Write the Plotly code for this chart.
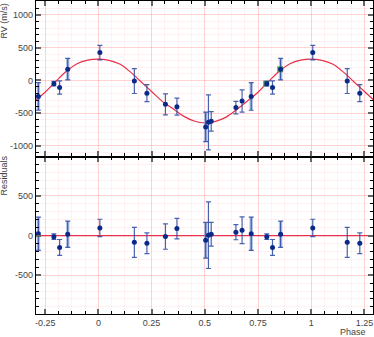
import plotly.graph_objects as go

# ---- data (base phases in [0,1)) ----
phase = [0.007, 0.169, 0.228, 0.315, 0.369, 0.504, 0.517, 0.530, 0.646, 0.675, 0.718, 0.791, 0.818, 0.856]
rv = [425, -10, -195, -365, -400, -710, -640, -625, -415, -315, -245, -50, -108, 172]
rv_err = [110, 190, 130, 160, 130, 225, 420, 150, 95, 170, 210, 35, 100, 165]
resid = [96, -86, -97, -13, 88, -59, 4, 16, 42, 67, 22, -15, -150, 16]
light = [False, False, False, False, False, True, False, False, False, False, True, True, False, True]
green_phase = [0.788, 0.854]
green_rv = [-48, 170]

model_phase = [-0.30, -0.25, -0.20, -0.15, -0.10, -0.05, 0.00, 0.05, 0.10, 0.15, 0.20, 0.25, 0.30,
               0.35, 0.40, 0.45, 0.50, 0.55, 0.60, 0.65, 0.70, 0.75, 0.80, 0.85, 0.90, 0.95,
               1.00, 1.05, 1.10, 1.15, 1.20, 1.25, 1.30]
model_rv = [-315, -180, -15, 140, 255, 310, 325, 305, 250, 130, -20, -170, -320,
            -430, -545, -620, -650, -625, -560, -445, -315, -180, -15, 140, 255, 310,
            325, 305, 250, 130, -20, -170, -320]

x_tickvals = [-0.25, 0, 0.25, 0.5, 0.75, 1, 1.25]
x_ticktext = ["-0.25", "0", "0.25", "0.5", "0.75", "1", "1.25"]
XMIN, XMAX = -0.293, 1.29

# phase-fold copies
def fold(ph, *cols):
    out_p = []
    out_c = [[] for _ in cols]
    for i, p in enumerate(ph):
        for sh in (-1, 0, 1):
            q = p + sh
            if XMIN <= q <= XMAX:
                out_p.append(q)
                for k, c in enumerate(cols):
                    out_c[k].append(c[i])
    return out_p, out_c

fp, (frv, ferr, fres, flight) = fold(phase, rv, rv_err, resid, light)

DARK = "#0a2a8a"
BAR = "rgba(40,70,160,0.85)"
LIGHTBAR = "rgba(120,150,210,0.55)"
RED = "#e8304a"
FONT = "Liberation Sans, Arial"

fig = go.Figure()

def add_points(yvals, xa, ya, green=False):
    lp = [p for p, l in zip(fp, flight) if l]
    ly = [y for y, l in zip(yvals, flight) if l]
    le = [e for e, l in zip(ferr, flight) if l]
    fig.add_trace(go.Scatter(x=lp, y=ly, mode="markers", xaxis=xa, yaxis=ya,
                             marker=dict(size=1, color="rgba(0,0,0,0)"),
                             error_y=dict(type="data", array=le, color=LIGHTBAR, thickness=3.5, width=0),
                             showlegend=False, hoverinfo="skip"))
    if green:
        fig.add_trace(go.Scatter(x=green_phase, y=green_rv, mode="markers", xaxis=xa, yaxis=ya,
                                 marker=dict(size=6, symbol="square", color="rgba(70,160,60,0.85)"),
                                 showlegend=False))
    fig.add_trace(go.Scatter(x=fp, y=yvals, mode="markers", xaxis=xa, yaxis=ya,
                             marker=dict(size=5, color=DARK),
                             error_y=dict(type="data", array=ferr, color=BAR, thickness=1.2, width=2.5),
                             showlegend=False))

# top panel
fig.add_trace(go.Scatter(x=model_phase, y=model_rv, mode="lines", line=dict(color=RED, width=1.2, shape="spline"),
                         xaxis="x2", yaxis="y2", showlegend=False, hoverinfo="skip"))
add_points(frv, "x2", "y2", green=True)

# bottom panel
fig.add_trace(go.Scatter(x=[XMIN, XMAX], y=[0, 0], mode="lines", line=dict(color=RED, width=1.2),
                         xaxis="x", yaxis="y", showlegend=False, hoverinfo="skip"))
add_points(fres, "x", "y")

axis_common = dict(showline=True, linecolor="black", linewidth=1.3, mirror="ticks",
                   ticks="inside", ticklen=5, tickwidth=2, tickcolor="#666",
                   gridcolor="rgba(255,120,120,0.25)", gridwidth=1, zeroline=False,
                   automargin=False,
                   tickfont=dict(family=FONT, size=9, color="#444"),
                   minor=dict(ticks="inside", ticklen=3, tickwidth=1, tickcolor="black",
                              showgrid=True, gridcolor="rgba(255,150,150,0.12)"))

fig.update_layout(
    width=374, height=337,
    margin=dict(l=36, r=1, t=1, b=23),
    paper_bgcolor="white", plot_bgcolor="white",
    xaxis=dict(axis_common, domain=[0, 1], range=[XMIN, XMAX], anchor="y",
               tickvals=x_tickvals, ticktext=x_ticktext,
               minor=dict(axis_common["minor"], dtick=0.0625, tick0=0)),
    xaxis2=dict(axis_common, domain=[0, 1], range=[XMIN, XMAX], anchor="y2", matches="x",
                tickvals=x_tickvals, showticklabels=False,
                minor=dict(axis_common["minor"], dtick=0.0625, tick0=0)),
    yaxis=dict(axis_common, domain=[0, 0.503], range=[-990, 997], anchor="x",
               tickvals=[-500, 0, 500], ticktext=["-500", "0", "500"],
               minor=dict(axis_common["minor"], dtick=100, tick0=0)),
    yaxis2=dict(axis_common, domain=[0.503, 1], range=[-1162, 1212], anchor="x2",
                tickvals=[-1000, -500, 0, 500, 1000], ticktext=["-1000", "-500", "0", "500", "1000"],
                minor=dict(axis_common["minor"], dtick=100, tick0=0)),
    annotations=[
        dict(text="Residuals", xref="paper", yref="paper", x=-0.095, y=0.88 * 0.503, xanchor="center",
             yanchor="middle", textangle=-90, showarrow=False,
             font=dict(family=FONT, size=9, color="#444")),
        dict(text="RV (m/s)", xref="paper", yref="paper", x=-0.095, y=1.0, xanchor="center",
             yanchor="top", textangle=-90, showarrow=False,
             font=dict(family=FONT, size=9, color="#444")),
        dict(text="Phase", xref="paper", yref="paper", x=0.985, y=-0.036, xanchor="right",
             yanchor="top", showarrow=False,
             font=dict(family=FONT, size=9, color="#444")),
    ],
)

fig.write_html("out.html", config={"displayModeBar": False},
               post_script="document.body.style.margin='0px';")
